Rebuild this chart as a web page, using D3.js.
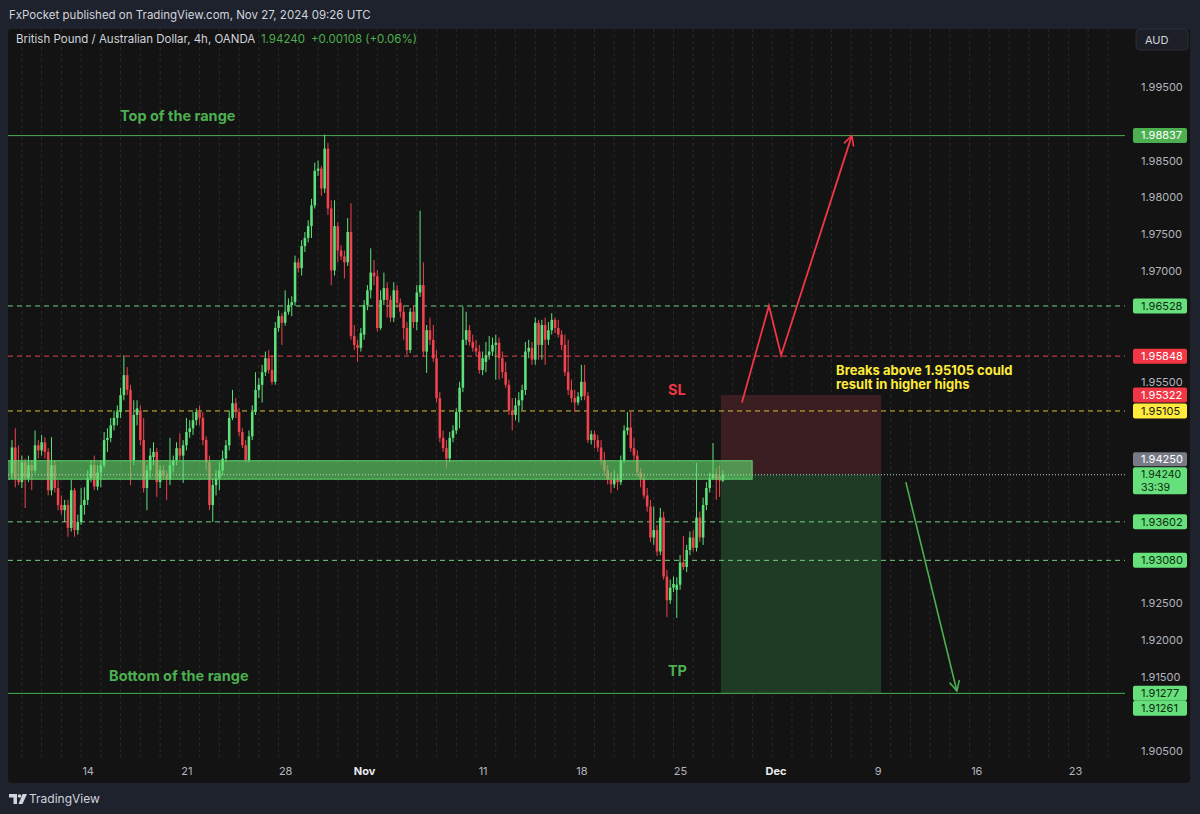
<!DOCTYPE html>
<html><head><meta charset="utf-8">
<script src="https://cdn.jsdelivr.net/npm/d3@7"></script>
<style>
html,body{margin:0;padding:0;background:#1e222d;}
svg{display:block;font-family:Inter,"Noto Sans",sans-serif;}
</style></head><body>
<svg id="chart" width="1200" height="814"></svg>
<script>
// ---- DATA ----
// 4h candles [open, high, low, close], GBP/AUD, OANDA (Oct 9 -> Nov 27 2024)
const candles = [
[1.9426,1.9471,1.9419,1.9461],[1.9461,1.9487,1.9407,1.9419],[1.9419,1.9464,1.9410,1.9414],[1.9414,1.9450,1.9406,1.9441],
[1.9441,1.9446,1.9379,1.9419],[1.9419,1.9450,1.9414,1.9437],[1.9437,1.9444,1.9403,1.9430],[1.9430,1.9484,1.9426,1.9464],
[1.9464,1.9471,1.9446,1.9457],[1.9457,1.9478,1.9450,1.9468],[1.9468,1.9475,1.9446,1.9455],[1.9455,1.9460,1.9396,1.9403],
[1.9403,1.9475,1.9396,1.9437],[1.9437,1.9444,1.9400,1.9406],[1.9406,1.9417,1.9376,1.9383],[1.9383,1.9396,1.9370,1.9376],
[1.9376,1.9390,1.9360,1.9383],[1.9383,1.9390,1.9340,1.9352],[1.9352,1.9417,1.9347,1.9403],[1.9403,1.9406,1.9340,1.9349],
[1.9349,1.9370,1.9343,1.9360],[1.9360,1.9406,1.9356,1.9383],[1.9383,1.9407,1.9370,1.9390],[1.9390,1.9430,1.9383,1.9419],
[1.9419,1.9444,1.9414,1.9437],[1.9437,1.9450,1.9403,1.9408],[1.9408,1.9437,1.9403,1.9427],[1.9427,1.9444,1.9407,1.9437],
[1.9437,1.9482,1.9433,1.9471],[1.9471,1.9487,1.9455,1.9474],[1.9474,1.9501,1.9468,1.9491],[1.9491,1.9511,1.9484,1.9501],
[1.9501,1.9518,1.9491,1.9509],[1.9509,1.9542,1.9501,1.9532],[1.9532,1.9586,1.9525,1.9559],[1.9559,1.9570,1.9532,1.9539],
[1.9539,1.9546,1.9410,1.9444],[1.9444,1.9525,1.9437,1.9505],[1.9505,1.9525,1.9491,1.9514],[1.9511,1.9518,1.9464,1.9471],
[1.9471,1.9501,1.9400,1.9406],[1.9406,1.9437,1.9376,1.9430],[1.9430,1.9460,1.9419,1.9450],[1.9448,1.9468,1.9437,1.9455],
[1.9455,1.9460,1.9394,1.9414],[1.9414,1.9437,1.9406,1.9430],[1.9430,1.9437,1.9417,1.9423],[1.9423,1.9430,1.9390,1.9417],
[1.9417,1.9474,1.9410,1.9437],[1.9437,1.9450,1.9427,1.9444],[1.9444,1.9468,1.9437,1.9460],[1.9460,1.9480,1.9444,1.9450],
[1.9450,1.9471,1.9413,1.9464],[1.9464,1.9501,1.9457,1.9482],[1.9482,1.9498,1.9474,1.9487],[1.9487,1.9509,1.9478,1.9498],
[1.9498,1.9514,1.9491,1.9509],[1.9509,1.9518,1.9491,1.9501],[1.9501,1.9509,1.9464,1.9471],[1.9471,1.9476,1.9430,1.9441],
[1.9441,1.9450,1.9376,1.9383],[1.9383,1.9419,1.9360,1.9410],[1.9410,1.9430,1.9396,1.9419],[1.9419,1.9441,1.9403,1.9430],
[1.9430,1.9457,1.9423,1.9446],[1.9446,1.9471,1.9441,1.9464],[1.9464,1.9511,1.9457,1.9501],[1.9501,1.9539,1.9498,1.9521],
[1.9521,1.9528,1.9501,1.9509],[1.9509,1.9514,1.9476,1.9482],[1.9482,1.9487,1.9460,1.9464],[1.9464,1.9471,1.9440,1.9444],
[1.9444,1.9484,1.9441,1.9476],[1.9476,1.9518,1.9471,1.9509],[1.9509,1.9563,1.9505,1.9539],[1.9539,1.9555,1.9528,1.9546],
[1.9546,1.9573,1.9522,1.9563],[1.9563,1.9591,1.9558,1.9582],[1.9582,1.9593,1.9561,1.9566],[1.9566,1.9586,1.9546,1.9550],
[1.9550,1.9631,1.9546,1.9623],[1.9623,1.9647,1.9618,1.9639],[1.9639,1.9643,1.9600,1.9630],[1.9630,1.9674,1.9626,1.9645],
[1.9645,1.9663,1.9641,1.9654],[1.9654,1.9666,1.9639,1.9658],[1.9658,1.9721,1.9653,1.9712],[1.9712,1.9717,1.9698,1.9704],
[1.9704,1.9742,1.9694,1.9734],[1.9734,1.9753,1.9726,1.9745],[1.9745,1.9769,1.9739,1.9761],[1.9761,1.9798,1.9745,1.9789],
[1.9789,1.9847,1.9785,1.9836],[1.9836,1.9850,1.9829,1.9839],[1.9839,1.9843,1.9802,1.9812],[1.9812,1.9885,1.9806,1.9866],
[1.9866,1.9874,1.9776,1.9785],[1.9785,1.9796,1.9681,1.9701],[1.9701,1.9796,1.9694,1.9761],[1.9761,1.9766,1.9712,1.9728],
[1.9728,1.9735,1.9715,1.9720],[1.9720,1.9728,1.9690,1.9712],[1.9712,1.9772,1.9707,1.9753],[1.9753,1.9792,1.9607,1.9612],
[1.9612,1.9627,1.9593,1.9600],[1.9600,1.9607,1.9577,1.9596],[1.9596,1.9623,1.9591,1.9616],[1.9614,1.9661,1.9607,1.9654],
[1.9654,1.9681,1.9647,1.9674],[1.9674,1.9731,1.9663,1.9698],[1.9698,1.9715,1.9681,1.9693],[1.9693,1.9701,1.9618,1.9623],
[1.9623,1.9674,1.9620,1.9661],[1.9661,1.9698,1.9654,1.9677],[1.9677,1.9685,1.9637,1.9661],[1.9661,1.9667,1.9631,1.9637],
[1.9637,1.9685,1.9631,1.9674],[1.9674,1.9681,1.9650,1.9657],[1.9657,1.9663,1.9637,1.9645],[1.9645,1.9654,1.9607,1.9623],
[1.9623,1.9631,1.9586,1.9593],[1.9593,1.9650,1.9589,1.9645],[1.9645,1.9654,1.9623,1.9631],[1.9631,1.9681,1.9620,1.9671],
[1.9671,1.9782,1.9665,1.9681],[1.9681,1.9712,1.9585,1.9591],[1.9591,1.9627,1.9562,1.9620],[1.9620,1.9637,1.9600,1.9607],
[1.9607,1.9627,1.9577,1.9582],[1.9582,1.9593,1.9522,1.9528],[1.9528,1.9536,1.9468,1.9474],[1.9474,1.9484,1.9455,1.9460],
[1.9460,1.9471,1.9434,1.9446],[1.9446,1.9482,1.9441,1.9474],[1.9474,1.9491,1.9468,1.9484],[1.9484,1.9514,1.9479,1.9509],
[1.9509,1.9550,1.9487,1.9542],[1.9542,1.9652,1.9536,1.9607],[1.9607,1.9645,1.9600,1.9620],[1.9620,1.9627,1.9599,1.9604],
[1.9604,1.9614,1.9591,1.9596],[1.9596,1.9607,1.9585,1.9591],[1.9591,1.9600,1.9561,1.9566],[1.9566,1.9591,1.9559,1.9582],
[1.9577,1.9604,1.9563,1.9586],[1.9586,1.9612,1.9580,1.9591],[1.9591,1.9610,1.9585,1.9600],[1.9600,1.9614,1.9553,1.9603],
[1.9603,1.9610,1.9553,1.9582],[1.9582,1.9591,1.9555,1.9563],[1.9563,1.9577,1.9542,1.9546],[1.9546,1.9553,1.9505,1.9511],
[1.9511,1.9528,1.9484,1.9505],[1.9505,1.9528,1.9498,1.9518],[1.9518,1.9536,1.9495,1.9525],[1.9525,1.9546,1.9511,1.9539],
[1.9539,1.9604,1.9532,1.9591],[1.9591,1.9607,1.9582,1.9596],[1.9596,1.9604,1.9573,1.9580],[1.9580,1.9637,1.9573,1.9630],
[1.9630,1.9634,1.9580,1.9600],[1.9600,1.9634,1.9580,1.9627],[1.9627,1.9637,1.9573,1.9607],[1.9607,1.9631,1.9600,1.9620],
[1.9620,1.9643,1.9614,1.9634],[1.9634,1.9637,1.9616,1.9623],[1.9623,1.9634,1.9610,1.9614],[1.9614,1.9620,1.9593,1.9600],
[1.9600,1.9614,1.9558,1.9563],[1.9563,1.9607,1.9532,1.9539],[1.9539,1.9553,1.9522,1.9528],[1.9528,1.9539,1.9509,1.9522],
[1.9522,1.9536,1.9518,1.9530],[1.9530,1.9573,1.9525,1.9550],[1.9550,1.9573,1.9525,1.9531],[1.9531,1.9536,1.9467,1.9471],
[1.9471,1.9484,1.9465,1.9479],[1.9479,1.9484,1.9460,1.9471],[1.9471,1.9478,1.9455,1.9461],[1.9461,1.9471,1.9437,1.9444],
[1.9444,1.9455,1.9423,1.9430],[1.9430,1.9437,1.9411,1.9417],[1.9417,1.9427,1.9399,1.9411],[1.9411,1.9430,1.9406,1.9419],
[1.9419,1.9425,1.9403,1.9414],[1.9414,1.9450,1.9410,1.9444],[1.9444,1.9491,1.9440,1.9484],[1.9484,1.9509,1.9478,1.9488],
[1.9488,1.9509,1.9455,1.9460],[1.9460,1.9474,1.9444,1.9450],[1.9450,1.9457,1.9421,1.9427],[1.9427,1.9433,1.9407,1.9419],
[1.9419,1.9425,1.9392,1.9396],[1.9396,1.9406,1.9374,1.9381],[1.9381,1.9390,1.9333,1.9339],[1.9339,1.9381,1.9329,1.9349],
[1.9349,1.9356,1.9314,1.9320],[1.9320,1.9379,1.9315,1.9366],[1.9366,1.9374,1.9282,1.9286],[1.9286,1.9295,1.9231,1.9254],
[1.9254,1.9282,1.9249,1.9271],[1.9271,1.9286,1.9265,1.9276],[1.9268,1.9285,1.9230,1.9275],[1.9275,1.9315,1.9268,1.9305],
[1.9305,1.9341,1.9295,1.9299],[1.9299,1.9329,1.9292,1.9322],[1.9322,1.9347,1.9315,1.9339],[1.9339,1.9349,1.9320,1.9325],
[1.9325,1.9440,1.9320,1.9366],[1.9366,1.9374,1.9333,1.9339],[1.9339,1.9393,1.9329,1.9383],[1.9383,1.9414,1.9376,1.9406],
[1.9406,1.9427,1.9400,1.9419],[1.9419,1.9467,1.9417,1.9425],[1.9425,1.9433,1.9390,1.9417],[1.9422,1.9437,1.9394,1.9416],
[1.9416,1.9430,1.9414,1.9424]
];

const priceTicks = [2.000,1.995,1.990,1.985,1.980,1.975,1.970,1.965,1.960,1.955,1.950,1.945,1.940,1.935,1.930,1.925,1.920,1.915,1.910,1.905];
const timeTickLabels = ["14","21","28","Nov","11","18","25","Dec","9","16","23"];
const timeTickBars   = [23,53,83,107,143,173,203,232,263,293,323];
const monthLabels = ["Nov","Dec"];

// horizontal levels
const levelPrices = [1.98837,1.96528,1.95848,1.95105,1.93602,1.93080,1.91277];
const levelKinds  = ["solidGreen","dashGreen","dashRed","dashYellow","dashGreen","dashGreen","solidGreen"];

// price-axis labels (order = placement priority)
const axisLabelTexts  = ["1.94240","1.98837","1.96528","1.95848","1.95322","1.95105","1.93602","1.93080","1.91277","1.91261","1.94250"];
const axisLabelPrices = [1.94240,1.98837,1.96528,1.95848,1.95322,1.95105,1.93602,1.93080,1.91277,1.91261,1.94250];
const axisLabelKinds  = ["current","greenDark","green","red","red","yellow","green","green","green","green","gray"];

const lastPrice = 1.94240, countdown = "33:39";
const zone = {fromBar:-3, toBar:224.9, top:1.9443, bottom:1.9418};
const position = {fromBar:215.4, toBar:264.1, entry:1.9424, stop:1.95322, target:1.91277};
const redArrowBars = [221.8,230.0,233.7,255.2], redArrowPrices = [1.9522,1.9653,1.9586,1.9884];
const greenArrowBars = [271.6,287.1], greenArrowPrices = [1.9414,1.9131];
const noteTexts  = ["Top of the range","Bottom of the range","SL","TP","Breaks above 1.95105 could","result in higher highs"];
const noteBars   = [32.8,29.5,199.3,199.3,250.4,250.4];
const notePrices = [1.9911,1.9151,1.9539,1.9158,1.9565,1.9546];
const noteKinds  = ["green","green","red","green","yellow","yellow"];

// ---- STYLE / LAYOUT ----
const C = {
  outer:"#1e222d", pane:"#131313", text:"#d1d4dc", axis:"#b2b5be", grid:"#2a2a2a",
  up:"#5de27b", down:"#f0434f",
  green:"#4caf50", red:"#f23645", yellow:"#ffeb3b",
};
const pane = {x:8, y:29, w:1182, h:754};
const plot = {x:8, y:29, r:1125, b:760};

const svg = d3.select("#chart");
svg.append("rect").attr("width",1200).attr("height",814).attr("fill",C.outer);

svg.append("text").attr("x",9).attr("y",19).attr("fill",C.text)
  .attr("font-size",11.5).text("FxPocket published on TradingView.com, Nov 27, 2024 09:26 UTC");

svg.append("rect").attr("x",pane.x).attr("y",pane.y).attr("width",pane.w).attr("height",pane.h)
  .attr("rx",4).attr("fill",C.pane);

const x = d3.scaleLinear().domain([0,323]).range([12,1075]);
const y = d3.scaleLinear().domain([1.905,1.995]).range([750.7,86.7]);

const defs = svg.append("defs");
defs.append("clipPath").attr("id","clip").append("rect")
  .attr("x",plot.x).attr("y",plot.y).attr("width",plot.r-plot.x).attr("height",plot.b-plot.y);
function marker(id,color){
  defs.append("marker").attr("id",id).attr("viewBox","0 0 12 12").attr("refX",11).attr("refY",6)
    .attr("markerWidth",12).attr("markerHeight",12).attr("markerUnits","userSpaceOnUse").attr("orient","auto")
    .append("path").attr("d","M1,1 L11,6 L1,11").attr("fill","none").attr("stroke",color).attr("stroke-width",1.6);
}
marker("arrRed",C.red); marker("arrGreen",C.green);

const g = svg.append("g").attr("clip-path","url(#clip)");

// vertical grid (one per trading day)
const gridBars = d3.range(3, 340, 6);
g.selectAll("line.grid").data(gridBars).join("line")
  .attr("x1",d=>x(d)).attr("x2",d=>x(d)).attr("y1",plot.y).attr("y2",plot.b)
  .attr("stroke",C.grid).attr("stroke-dasharray","3,3");

// position tool
g.append("rect").attr("x",x(position.fromBar)).attr("width",x(position.toBar)-x(position.fromBar))
  .attr("y",y(position.stop)).attr("height",y(position.entry)-y(position.stop)).attr("fill","#3a1e22");
g.append("rect").attr("x",x(position.fromBar)).attr("width",x(position.toBar)-x(position.fromBar))
  .attr("y",y(position.entry)).attr("height",y(position.target)-y(position.entry)).attr("fill","#1f3b25");

// levels
const levelStyle = {
  solidGreen:{c:"#4caf50",d:null}, dashGreen:{c:"#6fcf7c",d:"5,4"},
  dashRed:{c:"#e5434f",d:"5,4"}, dashYellow:{c:"#d8c234",d:"5,4"}
};
levelPrices.forEach((p,i)=>{
  const s = levelStyle[levelKinds[i]];
  g.append("line").attr("x1",plot.x).attr("x2",plot.r).attr("y1",y(p)).attr("y2",y(p))
    .attr("stroke",s.c).attr("stroke-width",1).attr("stroke-dasharray",s.d);
});

// candles
const bw = (x(1)-x(0))*0.78;
const cg = g.append("g");
cg.selectAll("line.wick").data(candles).join("line")
  .attr("x1",(d,i)=>x(i)).attr("x2",(d,i)=>x(i)).attr("y1",d=>y(d[1])).attr("y2",d=>y(d[2]))
  .attr("stroke",d=>d[3]>=d[0]?C.up:C.down).attr("stroke-width",1);
cg.selectAll("rect.body").data(candles).join("rect")
  .attr("x",(d,i)=>x(i)-bw/2).attr("width",bw)
  .attr("y",d=>y(Math.max(d[0],d[3]))).attr("height",d=>Math.max(1,Math.abs(y(d[0])-y(d[3]))))
  .attr("fill",d=>d[3]>=d[0]?C.up:C.down);

// zone rectangle
g.append("rect").attr("x",x(zone.fromBar)).attr("width",x(zone.toBar)-x(zone.fromBar))
  .attr("y",y(zone.top)).attr("height",y(zone.bottom)-y(zone.top))
  .attr("fill","rgba(102,220,110,0.62)").attr("stroke","#5fd36b").attr("stroke-width",1);

// last price dotted line
g.append("line").attr("x1",plot.x).attr("x2",plot.r).attr("y1",y(lastPrice)).attr("y2",y(lastPrice))
  .attr("stroke","#b9d9bd").attr("stroke-dasharray","1,2").attr("stroke-width",1);

// arrows
const line = d3.line().x(d=>x(d[0])).y(d=>y(d[1]));
g.append("path").datum(redArrowBars.map((b,i)=>[b,redArrowPrices[i]])).attr("d",line)
  .attr("fill","none").attr("stroke",C.red).attr("stroke-width",1.8).attr("marker-end","url(#arrRed)");
g.append("path").datum(greenArrowBars.map((b,i)=>[b,greenArrowPrices[i]])).attr("d",line)
  .attr("fill","none").attr("stroke",C.green).attr("stroke-width",1.6).attr("marker-end","url(#arrGreen)");

// notes
const noteColor = {green:"#4caf50", red:"#f23645", yellow:"#ffeb3b"};
noteTexts.forEach((t,i)=>{
  g.append("text").attr("x",x(noteBars[i])).attr("y",y(notePrices[i])).attr("dy","0.35em")
    .attr("fill",noteColor[noteKinds[i]]).attr("font-weight",700)
    .attr("font-size",noteKinds[i]==="yellow"?13:14.5).text(t);
});

// legend
const lg = svg.append("text").attr("x",16).attr("y",43).attr("font-size",11.5);
lg.append("tspan").attr("fill",C.text).text("British Pound / Australian Dollar, 4h, OANDA");
lg.append("tspan").attr("fill","#4caf50").attr("dx",6).text("1.94240");
lg.append("tspan").attr("fill","#4caf50").attr("dx",6).text("+0.00108 (+0.06%)");

// price-axis labels: placement with simple collision avoidance
const labelStyle = {
  current:{bg:"#66e07a",fg:"#0f2a14",h:27}, green:{bg:"#66e07a",fg:"#0f2a14",h:15},
  greenDark:{bg:"#4caf50",fg:"#ffffff",h:15}, red:{bg:"#f23645",fg:"#ffffff",h:15},
  yellow:{bg:"#ffeb3b",fg:"#1a1a1a",h:15}, gray:{bg:"#787b86",fg:"#ffffff",h:14}
};
const placed = [];
axisLabelTexts.forEach((t,i)=>{
  const s = labelStyle[axisLabelKinds[i]];
  const cy = y(axisLabelPrices[i]);
  let top = axisLabelKinds[i]==="current" ? cy-7.5 : cy - s.h/2;
  placed.forEach(p=>{
    if (top < p.top+p.h && top+s.h > p.top){
      top = (axisLabelPrices[i] > p.price) ? p.top - s.h - 1 : p.top + p.h;
    }
  });
  placed.push({top, h:s.h, price:axisLabelPrices[i], text:t, kind:axisLabelKinds[i]});
});
// AUD button region also hides ticks
const blockers = placed.map(p=>[p.top,p.top+p.h]).concat([[29,50]]);
const visibleTicks = priceTicks.filter(p=>{
  const ty = y(p);
  return !blockers.some(b=> ty+5 > b[0] && ty-5 < b[1]);
});

// price axis
const pa = svg.append("g").attr("transform","translate(1141,0)")
  .call(d3.axisRight(y).tickValues(visibleTicks).tickFormat(d3.format(".5f")).tickSize(0).tickPadding(0));
pa.select(".domain").remove();
pa.selectAll("text").attr("fill",C.axis).attr("font-size",11).attr("font-family","Inter,'Noto Sans',sans-serif");

// time axis
const ta = svg.append("g").attr("transform",`translate(0,${plot.b})`)
  .call(d3.axisBottom(x).tickValues(timeTickBars).tickFormat((d,i)=>timeTickLabels[i]).tickSize(0).tickPadding(7));
ta.select(".domain").remove();
ta.selectAll("text").attr("font-size",11).attr("font-family","Inter,'Noto Sans',sans-serif")
  .attr("fill",d=>monthLabels.includes(timeTickLabels[timeTickBars.indexOf(d)])?"#e8eaee":C.axis)
  .attr("font-weight",d=>monthLabels.includes(timeTickLabels[timeTickBars.indexOf(d)])?700:400);

placed.forEach(p=>{
  const s = labelStyle[p.kind];
  const lg2 = svg.append("g");
  lg2.append("rect").attr("x",1133).attr("y",p.top).attr("width",54).attr("height",s.h).attr("rx",2).attr("fill",s.bg);
  if (p.kind==="current"){
    lg2.append("text").attr("x",1141).attr("y",p.top+6.8).attr("dy","0.35em").attr("font-size",10.5).attr("fill",s.fg).text(p.text);
    lg2.append("text").attr("x",1141).attr("y",p.top+20.2).attr("dy","0.35em").attr("font-size",10.5).attr("fill",s.fg).text(countdown);
  } else {
    lg2.append("text").attr("x",1141).attr("y",p.top+s.h/2).attr("dy","0.35em").attr("font-size",11).attr("fill",s.fg).text(p.text);
  }
});

// AUD button
svg.append("rect").attr("x",1136).attr("y",29).attr("width",52).attr("height",21).attr("rx",4)
  .attr("fill","#1c1f27").attr("stroke","#2a2e39");
svg.append("text").attr("x",1145).attr("y",43.5).attr("font-size",11).attr("fill",C.text).text("AUD");

// TradingView footer
const tv = svg.append("g").attr("fill","#d1d4dc");
tv.append("path").attr("d","M9,794 h8 v10 h-3.5 v-6.5 h-4.5 z");
tv.append("circle").attr("cx",19.5).attr("cy",796).attr("r",1.8);
tv.append("path").attr("d","M22.5,794 h4.5 l-4.5,10 h-4 z");
svg.append("text").attr("x",29).attr("y",803).attr("font-size",12).attr("fill","#d1d4dc").text("TradingView");
</script>
</body></html>
